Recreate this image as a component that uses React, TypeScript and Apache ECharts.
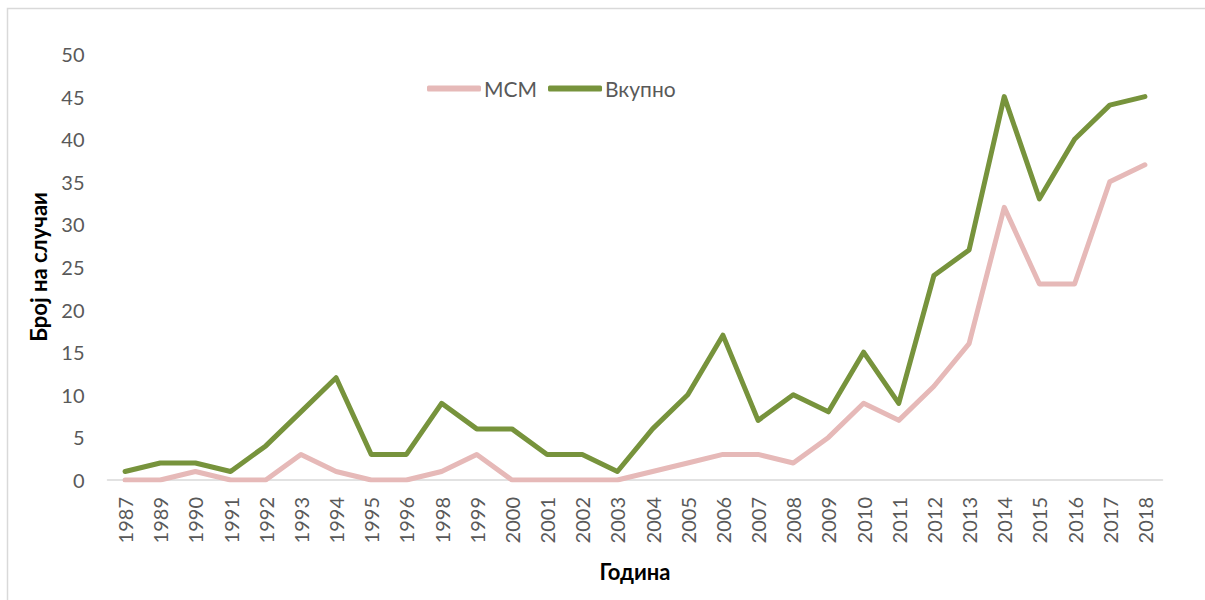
import React, { useEffect, useRef } from "react";
import * as echarts from "echarts";

const years = ["1987","1989","1990","1991","1992","1993","1994","1995","1996","1998","1999","2000","2001","2002","2003","2004","2005","2006","2007","2008","2009","2010","2011","2012","2013","2014","2015","2016","2017","2018"];
const msm = [0,0,1,0,0,3,1,0,0,1,3,0,0,0,0,1,2,3,3,2,5,9,7,11,16,32,23,23,35,37];
const total = [1,2,2,1,4,8,12,3,3,9,6,6,3,3,1,6,10,17,7,10,8,15,9,24,27,45,33,40,44,45];
const seriesNames = ["МСМ", "Вкупно"];
const yTicks = { min: 0, max: 50, interval: 5 };

const FONT = "Lato";

export default function App() {
  const ref = useRef<HTMLDivElement>(null);
  useEffect(() => {
    const chart = echarts.init(ref.current!, null, { renderer: "svg" });
    chart.setOption({
      animation: false,
      backgroundColor: "#ffffff",
      textStyle: { fontFamily: FONT },
      graphic: [
        {
          type: "rect",
          shape: { x: 7.5, y: 8.5, width: 1210, height: 610 },
          style: { fill: "none", stroke: "#d9d9d9", lineWidth: 1.5 },
          silent: true,
        },
      ],
      grid: { left: 107.5, right: 42.5, top: 54, bottom: 120 },
      legend: {
        left: 427,
        top: 78,
        padding: 0,
        itemWidth: 54,
        itemHeight: 6,
        itemGap: 11,
        icon: "roundRect",
        textStyle: { fontFamily: FONT, fontSize: 21, color: "#595959", padding: [0, 0, 0, -2] },
        data: seriesNames,
      },
      xAxis: {
        type: "category",
        data: years,
        boundaryGap: true,
        name: "Година",
        nameLocation: "middle",
        nameGap: 80,
        nameTextStyle: { fontFamily: FONT, fontSize: 22, fontWeight: "bold", color: "#000" },
        axisLine: { lineStyle: { color: "#d9d9d9", width: 1.5 } },
        axisTick: { show: false },
        axisLabel: { rotate: 90, interval: 0, fontSize: 20, color: "#595959", margin: 17, fontFamily: FONT },
        splitLine: { show: false },
      },
      yAxis: {
        type: "value",
        min: yTicks.min,
        max: yTicks.max,
        interval: yTicks.interval,
        name: "Број на случаи",
        nameLocation: "middle",
        nameGap: 58,
        nameTextStyle: { fontFamily: FONT, fontSize: 22, fontWeight: "bold", color: "#000" },
        axisLine: { show: false },
        axisTick: { show: false },
        axisLabel: { fontSize: 20, color: "#595959", margin: 23, fontFamily: FONT },
        splitLine: { show: false },
      },
      series: [
        {
          name: seriesNames[0],
          type: "line",
          data: msm,
          symbol: "none",
          lineStyle: { color: "#E6B9B8", width: 5, cap: "round", join: "round" },
          itemStyle: { color: "#E6B9B8" },
        },
        {
          name: seriesNames[1],
          type: "line",
          data: total,
          symbol: "none",
          lineStyle: { color: "#77933C", width: 5, cap: "round", join: "round" },
          itemStyle: { color: "#77933C" },
        },
      ],
    });
    return () => chart.dispose();
  }, []);
  return (
    <div
      ref={ref}
      style={{ position: "fixed", left: 0, top: 0, width: 1205, height: 600 }}
    />
  );
}
